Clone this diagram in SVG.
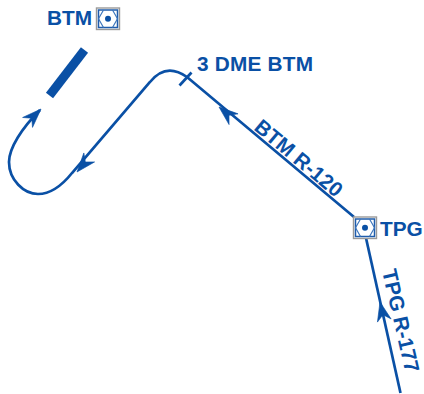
<svg xmlns="http://www.w3.org/2000/svg" width="424" height="394" viewBox="0 0 424 394">
<defs>
<style>
.r{fill:none;stroke:#0a50a5;stroke-width:2.700}
.a{fill:#0a50a5;stroke:#0a50a5;stroke-width:.6}
text{font-family:"Liberation Sans",Arial,sans-serif;font-weight:700;fill:#0a50a5;font-size:20.800px}
</style>
<g id="vor">
<rect x="-11.500" y="-11" width="23" height="21.500" fill="#fff" stroke="#9a9a9a" stroke-width="1.400"/>
<rect x="-9.500" y="-9" width="19" height="17.500" fill="none" stroke="#1f5cab" stroke-width="1.500"/>
<path d="M-9.500 -.2L-4.500 -9M4.500 -9L9.500 -.2M9.500 -.2L4.500 8.500M-4.500 8.500L-9.500 -.2" fill="none" stroke="#3f78bd" stroke-width="1.200"/>
<circle cx="0" cy="-.2" r="3" fill="#0a50a5"/>
</g>
<path id="ah" d="M0 0L-19 -7L-13 0L-19 7Z" class="a"/>
</defs>
<g id="connectors">
<path class="r" d="M400.500 393L366 238"/>
<path class="r" d="M354 217L187 77Q166 62 150 82L72 173C60 188 48 194 38 194C24 194 9 180 9 162C9 148 22 128 40 110"/>
<path class="r" d="M179.500 85.500L191.500 72.500"/>
<use href="#ah" transform="translate(380 302) rotate(-103)"/>
<use href="#ah" transform="translate(219 107) rotate(-140)"/>
<use href="#ah" transform="translate(77 172) rotate(130)"/>
<use href="#ah" transform="translate(41 109) rotate(-45)"/>
</g>
<g id="runway"><path d="M49.500 95.500L84.500 50" fill="none" stroke="#0a50a5" stroke-width="9"/></g>
<g id="btm"><use href="#vor" x="108" y="19"/><text x="47" y="25">BTM</text></g>
<g id="tpg"><use href="#vor" x="365" y="228"/><text x="380" y="236">TPG</text></g>
<text id="dme" x="197" y="71" textLength="116">3 DME BTM</text>
<text id="r120" transform="translate(253 129) rotate(40)">BTM R-120</text>
<text id="r177" transform="translate(382 271) rotate(77)">TPG R-177</text>
</svg>
